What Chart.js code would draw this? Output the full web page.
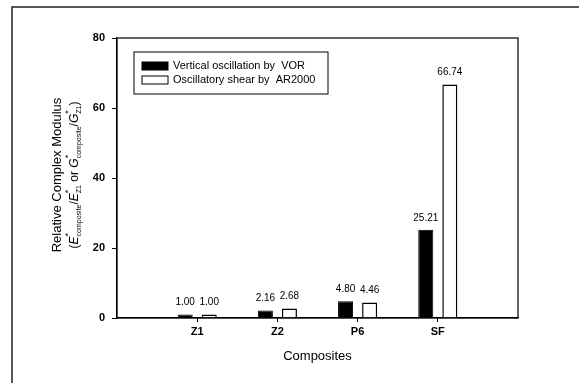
<!DOCTYPE html>
<html>
<head>
<meta charset="utf-8">
<script src="https://cdn.jsdelivr.net/npm/chart.js@4/dist/chart.umd.min.js"></script>
<style>
  html, body { margin: 0; padding: 0; background: #fff; }
  #wrap { width: 579px; height: 383px; }
</style>
</head>
<body>
<div id="wrap"><canvas id="myChart" width="579" height="383"></canvas></div>
<script>
let categories = ['Z1', 'Z2', 'P6', 'SF'];
let vorValues = [1.00, 2.16, 4.80, 25.21];
let arValues = [1.00, 2.68, 4.46, 66.74];
let seriesNames = ['Vertical oscillation by  VOR', 'Oscillatory shear by  AR2000'];
let yTicks = [0, 20, 40, 60, 80];

// empty slot on each side so the groups sit at 1..4 of a 0..5 axis
let labels = [''].concat(categories, ['']);
let pad = arr => [null].concat(arr, [null]);

const FONT = 'Arial, "Liberation Sans", sans-serif';

// box round the plot, outer page frame, value labels, legend, y title
const extras = {
  id: 'extras',
  beforeDraw(chart) {
    const c = chart.ctx;
    c.save();
    c.strokeStyle = '#222';
    c.lineWidth = 1.5;
    c.beginPath();
    c.moveTo(12, 383);
    c.lineTo(12, 7);
    c.lineTo(579, 7);
    c.stroke();
    c.restore();
  },
  afterDatasetsDraw(chart) {
    const c = chart.ctx;
    const a = chart.chartArea;
    c.save();
    c.strokeStyle = '#000';
    c.lineWidth = 1.2;
    c.strokeRect(a.left, a.top, a.right - a.left, a.bottom - a.top);

    // values above bars
    c.fillStyle = '#000';
    c.font = '10px ' + FONT;
    c.textAlign = 'center';
    c.textBaseline = 'middle';
    chart.data.datasets.forEach((ds, i) => {
      chart.getDatasetMeta(i).data.forEach((el, j) => {
        if (ds.data[j] == null) return;
        c.fillText(ds.data[j].toFixed(2), el.x, el.y - 12);
      });
    });

    // legend
    const lx = 134, ly = 52, lw = 194, lh = 42;
    c.lineWidth = 1;
    c.strokeRect(lx, ly, lw, lh);
    c.font = '11px ' + FONT;
    c.textAlign = 'left';
    chart.data.datasets.forEach((ds, i) => {
      const y = ly + 14 + i * 14;
      c.fillStyle = ds.backgroundColor;
      c.fillRect(lx + 8, y - 4, 26, 8);
      c.strokeStyle = '#000';
      c.strokeRect(lx + 8, y - 4, 26, 8);
      c.fillStyle = '#000';
      c.fillText(ds.label, lx + 39, y);
    });

    // x title
    c.font = '13px ' + FONT;
    c.textAlign = 'center';
    c.fillText('Composites', (a.left + a.right) / 2, 356);

    // y title, two lines, rotated
    const cy = (a.top + a.bottom) / 2 - 3;
    c.translate(57, cy);
    c.rotate(-Math.PI / 2);
    c.font = '13px ' + FONT;
    c.fillText('Relative Complex Modulus', 0, 0);

    const segs = [
      { t: '(' }, { t: 'E', it: true }, { t: '*', sup: true }, { t: 'composite', sub: true },
      { t: '/' }, { t: 'E', it: true }, { t: '*', sup: true }, { t: 'Z1', sub: true },
      { t: ' or ' }, { t: 'G', it: true }, { t: '*', sup: true }, { t: 'composite', sub: true },
      { t: '/' }, { t: 'G', it: true }, { t: '*', sup: true }, { t: 'Z1', sub: true }, { t: ')' }
    ];
    const fontOf = s => s.sub ? '7px ' + FONT : s.sup ? '9px ' + FONT : (s.it ? 'italic ' : '') + '12px ' + FONT;
    let total = 0;
    segs.forEach(s => {
      c.font = fontOf(s);
      s.w = c.measureText(s.t).width;
      if (!s.sup) total += s.w;
    });
    let x = -total / 2;
    c.textAlign = 'left';
    segs.forEach(s => {
      c.font = fontOf(s);
      if (s.sup) { c.fillText(s.t, x, 18 - 6); return; }
      c.fillText(s.t, x, s.sub ? 18 + 4 : 18);
      x += s.w;
    });
    c.restore();
  }
};

let ctx = document.getElementById('myChart').getContext('2d');

let chart = new Chart(ctx, {
  type: 'bar',
  data: {
    labels: labels,
    datasets: [
      {
        label: seriesNames[0],
        data: pad(vorValues),
        backgroundColor: '#000000',
        borderColor: '#000000',
        borderWidth: 1
      },
      {
        label: seriesNames[1],
        data: pad(arValues),
        backgroundColor: '#ffffff',
        borderColor: '#000000',
        borderWidth: 1.5
      }
    ]
  },
  options: {
    responsive: false,
    animation: false,
    categoryPercentage: 0.6,
    barPercentage: 0.625,
    layout: { padding: { left: 0, top: 38, right: 61, bottom: 0 } },
    plugins: {
      legend: { display: false },
      tooltip: { enabled: false }
    },
    scales: {
      x: {
        offset: false,
        afterFit: s => { s.height = 65; },
        grid: {
          offset: false,
          drawOnChartArea: false,
          tickLength: 4,
          color: c => (c.index === 0 || c.index === labels.length - 1) ? 'rgba(0,0,0,0)' : '#000'
        },
        border: { color: '#000', width: 1.2 },
        ticks: {
          color: '#000',
          font: { family: FONT, size: 11, weight: 'bold' },
          padding: 3,
          maxRotation: 0,
          autoSkip: false
        }
      },
      y: {
        min: yTicks[0],
        max: yTicks[yTicks.length - 1],
        afterFit: s => { s.width = 117; },
        afterBuildTicks: s => { s.ticks = yTicks.map(v => ({ value: v })); },
        grid: { drawOnChartArea: false, tickLength: 5, color: '#000' },
        border: { color: '#000', width: 1.2 },
        ticks: {
          color: '#000',
          font: { family: FONT, size: 11, weight: 'bold' },
          padding: 7
        }
      }
    }
  },
  plugins: [extras]
});
</script>
</body>
</html>
